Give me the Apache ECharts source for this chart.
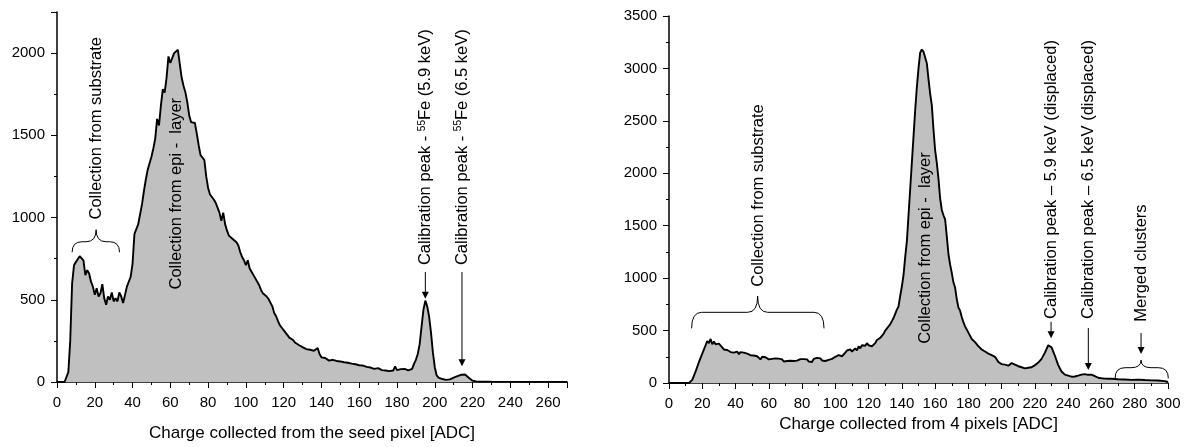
<!DOCTYPE html>
<html><head><meta charset="utf-8">
<script src="https://cdn.jsdelivr.net/npm/echarts@6/dist/echarts.min.js"></script>
<style>html,body{margin:0;padding:0;background:#fff}#c{width:1188px;height:447px}</style>
</head><body><div id="c"></div>
<script>
// ---- data: left panel (seed pixel) ----
const leftX = [0,1,2,3,4,5,6,7,8,9,10,11,12,13,14,15,16,17,18,19,20,21,22,23,24,25,26,27,28,29,30,31,32,33,34,35,36,37,38,39,40,41,42,43,44,45,46,47,48,49,50,51,52,53,54,55,56,57,58,59,60,61,62,63,64,65,66,67,68,69,70,71,72,73,74,75,76,77,78,79,80,81,82,83,84,85,86,87,88,89,90,91,92,93,94,95,96,97,98,99,100,101,102,103,104,105,106,107,108,109,110,111,112,113,114,115,116,117,118,119,120,121,122,123,124,125,126,127,128,129,130,131,132,133,134,135,136,137,138,139,140,141,142,143,144,145,146,147,148,149,150,151,152,153,154,155,156,157,158,159,160,161,162,163,164,165,166,167,168,169,170,171,172,173,174,175,176,177,178,179,180,181,182,183,184,185,186,187,188,189,190,191,192,193,194,195,196,197,198,199,200,201,202,203,204,205,206,207,208,209,210,211,212,213,214,215,216,217,218,219,220,221,222,230,250,270];
const leftY = [0,0,0,0,0,10,60,250,600,710,730,725,765,770,740,650,680,660,610,580,530,570,520,540,595,510,470,520,500,545,490,510,490,545,520,480,530,580,580,640,720,900,930,960,1020,1080,1160,1230,1290,1330,1370,1420,1480,1600,1560,1680,1780,1760,1850,1980,1940,1950,2000,1990,2020,2010,1850,1800,1760,1700,1620,1580,1585,1575,1510,1440,1380,1365,1350,1250,1180,1140,1130,1110,1090,1060,1030,980,1030,960,920,890,880,870,860,850,830,790,760,740,710,740,690,670,650,630,610,590,560,540,528,520,505,495,460,420,400,370,345,330,315,300,285,270,262,255,240,232,225,218,212,205,200,198,196,198,190,200,207,170,150,145,146,140,130,132,135,133,128,132,125,136,120,126,117,128,112,110,108,100,102,96,100,90,92,85,88,82,80,76,84,78,72,80,70,72,66,74,70,95,72,66,78,72,80,86,70,66,80,110,135,170,230,337,440,495,460,398,300,180,90,40,26,20,18,14,13,12,16,20,26,30,36,40,44,46,46,36,26,14,8,5,3,2,1,1];
// ---- data: right panel (4 pixels) ----
const rightX = [0,12,14,16,18,20,22,23,24,25,26,27,28,29,30,31,32,33,34,35,36,37,38,39,40,41,42,43,44,45,46,47,48,49,50,51,52,53,54,55,56,57,58,59,60,61,62,63,64,65,66,67,68,69,70,71,72,73,74,75,76,77,78,79,80,81,82,83,84,85,86,87,88,89,90,91,92,93,94,95,96,98,100,102,104,106,107,108,109,110,112,113,114,115,116,118,119,120,122,124,125,126,127,128,129,130,131,132,133,134,135,136,137,138,139,140,141,142,143,144,145,146,147,148,149,150,151,152,153,154,155,156,157,158,159,160,161,162,163,164,165,166,167,168,169,170,171,172,173,174,175,176,177,178,180,182,184,186,188,190,192,194,196,198,200,202,204,206,208,210,212,214,216,218,220,222,224,226,228,229,230,232,234,236,238,240,242,244,246,248,250,252,254,256,258,260,262,264,266,270,274,278,282,286,290,294,298,300];
const rightY = [0,0,30,110,200,280,360,400,380,420,370,395,370,385,375,360,340,320,310,315,300,295,310,290,285,300,275,295,280,290,275,280,270,265,258,262,250,255,248,225,250,232,245,240,225,238,230,220,235,218,232,215,225,205,220,210,200,212,205,210,208,213,220,228,235,228,240,225,205,215,200,230,220,240,225,235,215,222,210,225,220,230,250,265,255,290,310,295,320,300,330,310,350,330,360,355,380,360,350,380,410,400,430,450,470,500,510,540,560,590,620,660,700,730,830,920,1030,1200,1350,1600,1850,2100,2350,2600,2820,3000,3150,3180,3160,3170,3050,2900,2760,2650,2420,2220,2100,1950,1760,1650,1600,1560,1400,1230,1130,1050,960,910,800,720,690,630,580,540,480,420,390,350,320,300,280,265,250,200,180,175,165,190,175,160,150,140,145,150,170,195,230,290,360,375,340,260,170,110,80,70,60,62,70,80,85,78,80,65,50,45,42,40,40,36,33,30,32,28,25,24,18,10];

// ---- annotations (data coordinates) ----
const FONT = 'Liberation Sans, Arial, sans-serif';
const leftTexts = [
  {x:20.9, y:988, text:'Collection from substrate', align:'left'},
  {x:63, y:1145, text:'Collection from epi -  layer', align:'center'},
  {x:195, y:2145, text:'Calibration peak - {sup|55}Fe (5.9 keV)', align:'right'},
  {x:214.4, y:2145, text:'Calibration peak - {sup|55}Fe (6.5 keV)', align:'right'}
];
const leftArrows = [{x:195, y1:669, y2:506}, {x:214.4, y1:669, y2:96}];
const leftBraces = [{x1:8, x2:33.1, xc:20.7, yEnd:789, yBar:853, yCusp:926}];
const rightTexts = [
  {x:53.7, y:918, text:'Collection from substrate', align:'left'},
  {x:153.9, y:1287, text:'Collection from epi -  layer', align:'center'},
  {x:229.7, y:3270, text:'Calibration peak \u2013 5.9 keV (displaced)', align:'right'},
  {x:252.1, y:3270, text:'Calibration peak \u2013 6.5 keV (displaced)', align:'right'},
  {x:283.8, y:584, text:'Merged clusters', align:'left'}
];
const rightArrows = [{x:229.7, y1:584, y2:426}, {x:252.1, y1:524, y2:124}, {x:283.8, y1:477, y2:276}];
const rightBraces = [
  {x1:13.6, x2:93.2, xc:53.3, yEnd:521, yBar:674, yCusp:829},
  {x1:268.2, x2:300.2, xc:283.8, yEnd:45, yBar:146, yCusp:219}
];

const chart = echarts.init(document.getElementById('c'), null, {renderer:'canvas'});
const lbl = {color:'#000', fontSize:15, fontFamily:FONT};
const axLine = {show:true, onZero:false, lineStyle:{color:'#000', width:1.5}};
const nameStyle = {color:'#000', fontSize:17, fontFamily:FONT};
const plain = v => String(v);

const option = {
  animation:false,
  backgroundColor:'#fff',
  grid:[
    {left:57, top:12, width:510, height:374},
    {left:669, top:16, width:499, height:367}
  ],
  xAxis:[
    {type:'value', gridIndex:0, min:0, max:270, interval:10, axisLine:axLine,
     axisTick:{length:3, lineStyle:{color:'#000'}},
     axisLabel:Object.assign({margin:13, formatter:v=> (v%20===0 && v<=260)? String(v):''}, lbl),
     splitLine:{show:false},
     name:'Charge collected from the seed pixel [ADC]', nameLocation:'middle', nameGap:43, nameTextStyle:nameStyle},
    {type:'value', gridIndex:0, min:0, max:270, interval:20, position:'bottom',
     axisLine:{show:false}, axisTick:{length:6, lineStyle:{color:'#000'}}, axisLabel:{show:false}, splitLine:{show:false}},
    {type:'value', gridIndex:1, min:0, max:300, interval:20, axisLine:axLine,
     axisTick:{length:6, lineStyle:{color:'#000'}},
     minorTick:{show:true, splitNumber:2, length:3, lineStyle:{color:'#000'}},
     axisLabel:Object.assign({margin:13, formatter:plain}, lbl), splitLine:{show:false},
     name:'Charge collected from 4 pixels [ADC]', nameLocation:'middle', nameGap:32, nameTextStyle:nameStyle}
  ],
  yAxis:[
    {type:'value', gridIndex:0, min:0, max:2250, interval:250, axisLine:axLine,
     axisTick:{length:3, lineStyle:{color:'#000'}},
     axisLabel:Object.assign({margin:12, formatter:v=> (v%500===0)? String(v):''}, lbl),
     splitLine:{show:false}},
    {type:'value', gridIndex:0, min:0, max:2250, interval:500, position:'left',
     axisLine:{show:false}, axisTick:{length:6, lineStyle:{color:'#000'}}, axisLabel:{show:false}, splitLine:{show:false}},
    {type:'value', gridIndex:1, min:0, max:3500, interval:500, axisLine:axLine,
     axisTick:{length:6, lineStyle:{color:'#000'}},
     minorTick:{show:true, splitNumber:2, length:3, lineStyle:{color:'#000'}},
     axisLabel:Object.assign({margin:12, formatter:plain}, lbl), splitLine:{show:false}}
  ],
  series:[
    {type:'line', xAxisIndex:0, yAxisIndex:0, data:leftX.map((x,i)=>[x,leftY[i]]),
     symbol:'none', lineStyle:{color:'#000', width:1.9}, areaStyle:{color:'#c0c0c0', opacity:1}, z:2},
    {type:'line', xAxisIndex:2, yAxisIndex:2, data:rightX.map((x,i)=>[x,rightY[i]]),
     symbol:'none', lineStyle:{color:'#000', width:1.9}, areaStyle:{color:'#c0c0c0', opacity:1}, z:2}
  ]
};
chart.setOption(option);

function buildGraphics(texts, arrows, braces, finder){
  const g = [];
  const P = (x,y)=>chart.convertToPixel(finder,[x,y]);
  const st = {stroke:'#000', lineWidth:1, fill:null};
  texts.forEach(t=>{
    const p = P(t.x,t.y);
    g.push({type:'text', x:p[0], y:p[1], rotation:Math.PI/2, z:10, silent:true,
      style:{text:t.text, fill:'#000', fontSize:16.5, fontFamily:FONT, align:t.align, verticalAlign:'middle',
        rich:{sup:{fontSize:10, fontFamily:FONT, fill:'#000', verticalAlign:'top'}}}});
  });
  arrows.forEach(a=>{
    const p1 = P(a.x,a.y1), p2 = P(a.x,a.y2);
    g.push({type:'line', z:10, silent:true, shape:{x1:p1[0], y1:p1[1], x2:p2[0], y2:p2[1]-5}, style:{stroke:'#000', lineWidth:1}});
    g.push({type:'polygon', z:10, silent:true, shape:{points:[[p2[0]-3.5,p2[1]-7],[p2[0]+3.5,p2[1]-7],[p2[0],p2[1]]]}, style:{fill:'#000'}});
  });
  braces.forEach(b=>{
    const a = P(b.x1,b.yEnd), bar = P(b.x1,b.yBar), c = P(b.xc,b.yCusp), e = P(b.x2,b.yEnd);
    const x1=a[0], x2=e[0], xc=c[0], yE=a[1], yB=bar[1], yC=c[1];
    const r = Math.min(10,(xc-x1)/2);
    const seg = (sh)=>g.push({type:sh.cpx1!==undefined?'bezierCurve':'line', z:10, silent:true, shape:sh, style:st});
    seg({x1:x1, y1:yE, cpx1:x1, cpy1:yB, x2:x1+r, y2:yB});
    seg({x1:x1+r, y1:yB, x2:xc-r, y2:yB});
    seg({x1:xc-r, y1:yB, cpx1:xc, cpy1:yB, x2:xc, y2:yC});
    seg({x1:xc, y1:yC, cpx1:xc, cpy1:yB, x2:xc+r, y2:yB});
    seg({x1:xc+r, y1:yB, x2:x2-r, y2:yB});
    seg({x1:x2-r, y1:yB, cpx1:x2, cpy1:yB, x2:x2, y2:yE});
  });
  return g;
}
const graphics = buildGraphics(leftTexts, leftArrows, leftBraces, {xAxisIndex:0, yAxisIndex:0})
  .concat(buildGraphics(rightTexts, rightArrows, rightBraces, {xAxisIndex:2, yAxisIndex:2}));
chart.setOption({graphic:graphics});
</script></body></html>
